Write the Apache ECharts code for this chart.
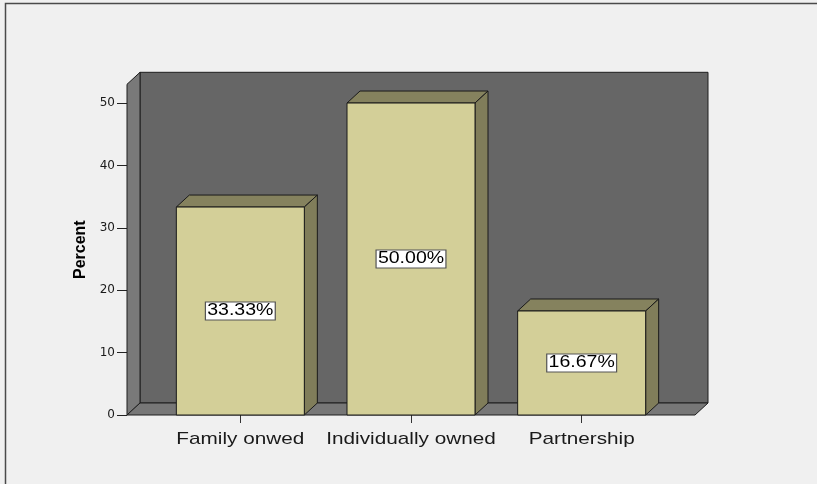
<!DOCTYPE html>
<html>
<head>
<meta charset="utf-8">
<script src="https://cdn.jsdelivr.net/npm/echarts@6/dist/echarts.min.js"></script>
<style>
  html, body { margin: 0; padding: 0; background: #f0f0f0; }
  #chart { width: 817px; height: 484px; }
</style>
</head>
<body>
<div id="chart"></div>
<script>
// Ownership structure (percent of respondents)
const categories = ['Family onwed', 'Individually owned', 'Partnership'];
const percentValues = [33.33, 50.00, 16.67];
const yTicks = [0, 10, 20, 30, 40, 50];
const yAxisMax = 53;

// 3D box styling (pixels)
const DX = 13, DY = 12, WALL_PAD = 28;
const TEXT_STRETCH = 1.22;

function fmtPct(v) { return v.toFixed(2) + '%'; }

const chart = echarts.init(document.getElementById('chart'), null, { renderer: 'canvas' });

// Back wall, left wall and floor of the chart box
function renderWalls(params, api) {
  const cs = params.coordSys;
  const left = cs.x - WALL_PAD;
  const right = cs.x + cs.width + WALL_PAD;
  const bottom = api.coord([0, 0])[1];
  const top = api.coord([0, yAxisMax])[1];
  const edge = { stroke: '#1e1e1e', lineWidth: 1 };
  return {
    type: 'group',
    children: [
      { type: 'rect', shape: { x: left + DX, y: top - DY, width: right - left, height: bottom - top },
        style: Object.assign({ fill: '#666666' }, edge) },
      { type: 'polygon', shape: { points: [[left, top], [left + DX, top - DY], [left + DX, bottom - DY], [left, bottom]] },
        style: Object.assign({ fill: '#797979' }, edge) },
      { type: 'polygon', shape: { points: [[left, bottom], [left + DX, bottom - DY], [right + DX, bottom - DY], [right, bottom]] },
        style: Object.assign({ fill: '#777777' }, edge) }
    ]
  };
}

// 3D bar with front face, top face, right side face and value label
function renderBar(params, api) {
  const idx = api.value(0);
  const val = api.value(1);
  const base = api.coord([idx, 0]);
  const topPt = api.coord([idx, val]);
  const w = api.size([1, 0])[0] * 0.75;
  const x0 = base[0] - w / 2, x1 = base[0] + w / 2;
  const yb = base[1], yt = topPt[1];
  const edge = { stroke: '#1a1a1a', lineWidth: 1 };
  return {
    type: 'group',
    children: [
      { type: 'polygon', shape: { points: [[x0, yt], [x0 + DX, yt - DY], [x1 + DX, yt - DY], [x1, yt]] },
        style: Object.assign({ fill: '#85825e' }, edge) },
      { type: 'polygon', shape: { points: [[x1, yt], [x1 + DX, yt - DY], [x1 + DX, yb - DY], [x1, yb]] },
        style: Object.assign({ fill: '#807d5a' }, edge) },
      { type: 'rect', shape: { x: x0, y: yt, width: w, height: yb - yt },
        style: Object.assign({ fill: '#d3cf98' }, edge) },
      { type: 'text', x: base[0], y: (yb + yt) / 2, scaleX: TEXT_STRETCH,
        style: { x: 0, y: 0, text: fmtPct(val), align: 'center', verticalAlign: 'middle',
          fontFamily: 'Liberation Sans, Arial, sans-serif', fontSize: 16, fill: '#000',
          backgroundColor: '#ffffff', borderColor: '#555555', borderWidth: 1, padding: [1, 1, 0, 1] } }
    ]
  };
}

// Category names under the floor
function renderCategory(params, api) {
  const idx = api.value(0);
  const p = api.coord([idx, 0]);
  return {
    type: 'text', x: p[0], y: p[1] + 24, scaleX: TEXT_STRETCH,
    style: { x: 0, y: 0, text: categories[idx], align: 'center', verticalAlign: 'middle',
      fontFamily: 'Liberation Sans, Arial, sans-serif', fontSize: 17, fill: '#1a1a1a' }
  };
}

const option = {
  backgroundColor: '#f0f0f0',
  animation: false,
  grid: { left: 155, right: 150, top: 84.3, bottom: 69 },
  xAxis: {
    type: 'category',
    data: categories,
    axisLine: { show: false },
    axisTick: { show: true, alignWithLabel: true, length: 8, lineStyle: { color: '#333' } },
    axisLabel: { show: false },
    splitLine: { show: false }
  },
  yAxis: {
    type: 'value',
    min: 0,
    max: yAxisMax,
    interval: 10,
    offset: WALL_PAD,
    name: 'Percent',
    nameLocation: 'middle',
    nameRotate: 90,
    nameGap: 35,
    nameTextStyle: { fontFamily: 'Liberation Sans, Arial, sans-serif', fontWeight: 'bold', fontSize: 16, color: '#000' },
    axisLine: { show: false },
    axisTick: { show: true, length: 10, customValues: yTicks, lineStyle: { color: '#222' } },
    axisLabel: { customValues: yTicks, margin: 12, fontFamily: 'DejaVu Sans, sans-serif', fontSize: 12, color: '#1a1a1a',
      formatter: v => (yTicks.indexOf(v) >= 0 ? String(v) : '') },
    splitLine: { show: false }
  },
  graphic: [
    { type: 'rect', shape: { x: 5.5, y: 3.5, width: 1000, height: 1000 }, silent: true,
      style: { fill: 'none', stroke: '#4a4a4a', lineWidth: 1.5 }, z: -10 }
  ],
  series: [
    { type: 'custom', clip: false, z: 1, silent: true, data: [[0, 0]], renderItem: renderWalls },
    { type: 'custom', clip: false, z: 2, silent: true, data: percentValues.map((v, i) => [i, v]), renderItem: renderBar },
    { type: 'custom', clip: false, z: 2, silent: true, data: categories.map((c, i) => [i, 0]), renderItem: renderCategory }
  ]
};

chart.setOption(option);
</script>
</body>
</html>
